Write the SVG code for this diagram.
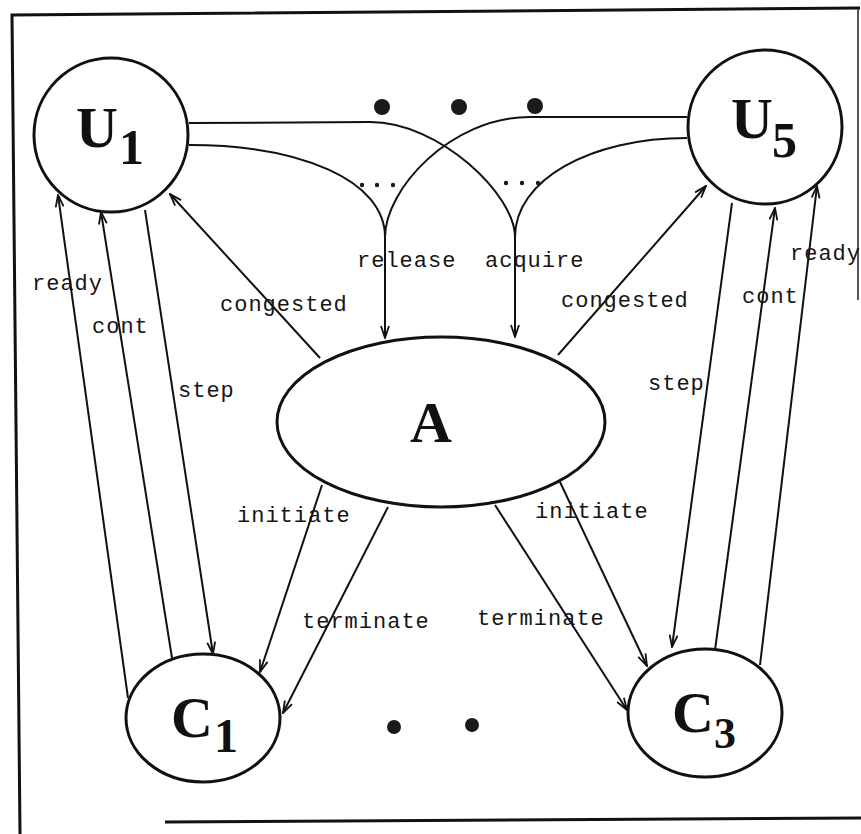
<svg xmlns="http://www.w3.org/2000/svg" width="861" height="834" viewBox="0 0 861 834">
  <style>
    .node { fill: #fff; stroke: #111; stroke-width: 3; }
    .edge { fill: none; stroke: #111; stroke-width: 2; }
    .lbl { font-family: "Liberation Mono", "DejaVu Sans Mono", monospace; font-size: 22px; letter-spacing: 1px; fill: #151515; }
    .big { font-family: "Liberation Serif", "DejaVu Serif", serif; font-weight: bold; fill: #111; }
    .dot { fill: #1a1a1a; }
    .frame { fill: none; stroke: #111; stroke-width: 3; }
  </style>
  <defs>
    <marker id="arr" viewBox="0 0 14 10" refX="13" refY="5" markerWidth="14" markerHeight="10" orient="auto" markerUnits="userSpaceOnUse">
      <path d="M1,1 L13,5 L1,9" fill="none" stroke="#111" stroke-width="1.8"/>
    </marker>
  </defs>
  <rect width="861" height="834" fill="#fff"/>

  <!-- outer frame -->
  <g id="frame">
    <path class="frame" d="M20,834 L12,15 L860,8"/>
    <path class="frame" d="M165,822 L861,818"/>
    <path d="M858,9 L858,300" fill="none" stroke="#555" stroke-width="2"/>
  </g>

  <!-- connectors -->
  <g id="connectors">
    <!-- shared channels into A -->
    <path class="edge" d="M189,123 L370,122 C440,122 515,195 515,237"/>
    <path class="edge" d="M189,145 C300,145 385,180 385,237"/>
    <path class="edge" d="M687,117 L530,117 C450,117 385,190 385,237"/>
    <path class="edge" d="M687,138 C590,138 515,180 515,237"/>
    <path class="edge" d="M385,237 L385,338" marker-end="url(#arr)"/>
    <path class="edge" d="M515,237 L515,337" marker-end="url(#arr)"/>

    <path class="edge" d="M320,358 L170,194" marker-end="url(#arr)"/>
    <path class="edge" d="M558,355 L706,186" marker-end="url(#arr)"/>

    <path class="edge" d="M128,698 L58,195" marker-end="url(#arr)"/>
    <path class="edge" d="M172,658 L101,212" marker-end="url(#arr)"/>
    <path class="edge" d="M145,210 L213,654" marker-end="url(#arr)"/>

    <path class="edge" d="M732,203 L672,647" marker-end="url(#arr)"/>
    <path class="edge" d="M715,650 L775,208" marker-end="url(#arr)"/>
    <path class="edge" d="M760,665 L817,186" marker-end="url(#arr)"/>

    <path class="edge" d="M322,485 L260,672" marker-end="url(#arr)"/>
    <path class="edge" d="M388,507 L283,713" marker-end="url(#arr)"/>
    <path class="edge" d="M560,482 L647,666" marker-end="url(#arr)"/>
    <path class="edge" d="M495,505 L627,710" marker-end="url(#arr)"/>

    <!-- ellipsis dots -->
    <circle class="dot" cx="382" cy="107" r="8"/>
    <circle class="dot" cx="459" cy="107" r="8"/>
    <circle class="dot" cx="535" cy="106" r="8"/>
    <circle class="dot" cx="394" cy="727" r="7"/>
    <circle class="dot" cx="472" cy="725" r="7"/>
    <circle class="dot" cx="362" cy="185" r="2.2"/>
    <circle class="dot" cx="377" cy="185" r="2.2"/>
    <circle class="dot" cx="393" cy="185" r="2.2"/>
    <circle class="dot" cx="506" cy="183" r="2.2"/>
    <circle class="dot" cx="522" cy="183" r="2.2"/>
    <circle class="dot" cx="538" cy="183" r="2.2"/>

    <!-- edge labels -->
    <text class="lbl" x="357" y="267">release</text>
    <text class="lbl" x="485" y="267">acquire</text>
    <text class="lbl" x="220" y="311">congested</text>
    <text class="lbl" x="561" y="307">congested</text>
    <text class="lbl" x="32" y="290">ready</text>
    <text class="lbl" x="92" y="333">cont</text>
    <text class="lbl" x="178" y="397">step</text>
    <text class="lbl" x="648" y="390">step</text>
    <text class="lbl" x="742" y="303">cont</text>
    <text class="lbl" x="790" y="260">ready</text>
    <text class="lbl" x="237" y="522">initiate</text>
    <text class="lbl" x="302" y="628">terminate</text>
    <text class="lbl" x="535" y="518">initiate</text>
    <text class="lbl" x="477" y="625">terminate</text>
  </g>

  <g id="U1">
    <circle class="node" cx="111" cy="135" r="77"/>
    <text class="big" x="76" y="147" font-size="58">U</text>
    <text class="big" x="119" y="164" font-size="50">1</text>
  </g>
  <g id="U5">
    <circle class="node" cx="765" cy="127" r="77"/>
    <text class="big" x="731" y="138" font-size="58">U</text>
    <text class="big" x="772" y="157" font-size="50">5</text>
  </g>
  <g id="A">
    <ellipse class="node" cx="441" cy="422" rx="164" ry="85"/>
    <text class="big" x="410" y="442" font-size="58">A</text>
  </g>
  <g id="C1">
    <ellipse class="node" cx="203" cy="718" rx="77" ry="64"/>
    <text class="big" x="171" y="737" font-size="58">C</text>
    <text class="big" x="214" y="752" font-size="48">1</text>
  </g>
  <g id="C3">
    <ellipse class="node" cx="705" cy="713" rx="77" ry="64"/>
    <text class="big" x="672" y="732" font-size="58">C</text>
    <text class="big" x="714" y="748" font-size="44">3</text>
  </g>
</svg>
